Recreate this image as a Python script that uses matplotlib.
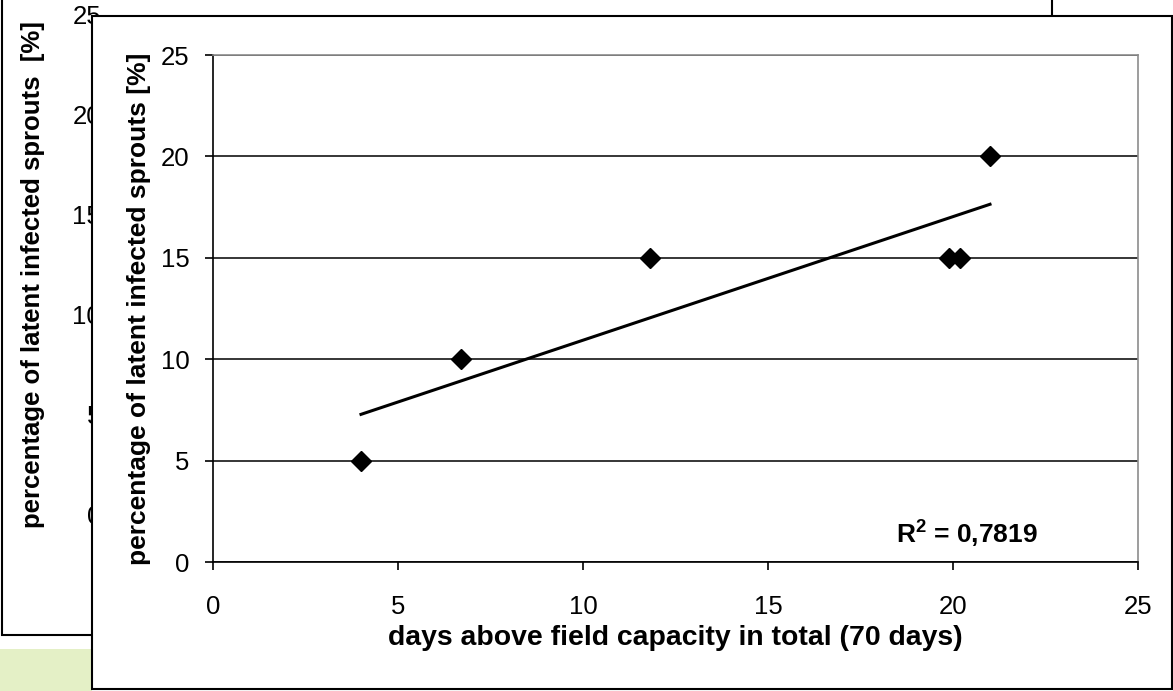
#------------------------------------------------------------------
# Import as ...
#
import matplotlib
matplotlib.use( 'Agg' )
from matplotlib import pyplot as plt
from matplotlib.patches import Rectangle
import numpy as np

#------------------------------------------------------------------
# Data.
#
days = [ 4.0, 6.7, 11.8, 19.9, 20.2, 21.0 ]
infected = [ 5, 10, 15, 15, 15, 20 ]
ticks = [ 0, 5, 10, 15, 20, 25 ]
r2_label = ' = 0,7819'
xlabel = 'days above field capacity in total (70 days)'
ylabel = 'percentage of latent infected sprouts [%]'
back_ylabel = 'percentage of latent infected sprouts  [%]'

#------------------------------------------------------------------
# Fonts.
#
plt.rcParams[ 'font.family' ] = [ 'Liberation Sans', 'DejaVu Sans' ]
plt.rcParams[ 'mathtext.fontset' ] = 'custom'
plt.rcParams[ 'mathtext.rm' ] = 'Liberation Sans'
plt.rcParams[ 'mathtext.bf' ] = 'Liberation Sans:bold'

W, H = 1173, 691
fig = plt.figure( figsize = ( W / 100, H / 100 ), dpi = 100 )

#------------------------------------------------------------------
# Background: the chart window lying behind (pixel coordinates).
#
bg = fig.add_axes( [ 0, 0, 1, 1 ] )
bg.set_xlim( 0, W )
bg.set_ylim( H, 0 )
bg.axis( 'off' )

bg.add_patch( Rectangle( ( 0, 649 ), 92, 42, facecolor = '#e4f0c6', edgecolor = 'none', zorder = 1 ) )
bg.add_patch( Rectangle( ( 1.5, -10 ), 1050, 645, facecolor = 'white', edgecolor = 'black', lw = 1.5, zorder = 1 ) )

# back tick labels, mostly hidden by the front window
for v in ticks:
    bg.text( 101, 517 - v * 20.0, str( v ), ha = 'right', va = 'center', fontsize = 18.5, zorder = 2 )
bg.text( 33, 275, back_ylabel, rotation = 90, ha = 'center', va = 'center',
         fontsize = 18.5, fontweight = 'bold', zorder = 2 )

# front window
bg.add_patch( Rectangle( ( 92, 15.7 ), 1080, 673.3, facecolor = 'white', edgecolor = 'black', lw = 1.5, zorder = 3 ) )

#------------------------------------------------------------------
# Front chart.
#
left, right, bottom, top = 213, 1138, 562, 55
ax = fig.add_axes( [ left / W, 1 - bottom / H, ( right - left ) / W, ( bottom - top ) / H ] )
ax.set_facecolor( 'white' )
ax.set_xlim( 0, 25 )
ax.set_ylim( 0, 25 )
ax.set_xticks( ticks )
ax.set_yticks( ticks )
ax.yaxis.grid( True, color = 'black', lw = 1.1 )
ax.set_axisbelow( True )

for s in [ 'left', 'bottom' ]:
    ax.spines[ s ].set_color( 'black' )
    ax.spines[ s ].set_linewidth( 1.2 )
for s in [ 'top', 'right' ]:
    ax.spines[ s ].set_color( '#8c8c8c' )
    ax.spines[ s ].set_linewidth( 1.2 )

ax.tick_params( axis = 'y', direction = 'out', length = 6, width = 1.2, pad = 11, labelsize = 18.5 )
ax.tick_params( axis = 'x', direction = 'out', length = 6, width = 1.2, pad = 18, labelsize = 18.5 )

# linear trend line
k, d = np.polyfit( days, infected, 1 )
xt = np.array( [ min( days ), max( days ) ] )
ax.plot( xt, k * xt + d, color = 'black', lw = 2.2, zorder = 3 )

ax.plot( days, infected, 'D', color = 'black', markersize = 10, zorder = 4, clip_on = False )

ax.set_xlabel( xlabel, fontsize = 20.4, fontweight = 'bold', labelpad = 4 )
ax.set_ylabel( ylabel, fontsize = 19, fontweight = 'bold', labelpad = 7 )

ax.text( 0.815, 0.055, r'$\mathbf{R^2}$' + r2_label, transform = ax.transAxes,
         ha = 'center', va = 'center', fontsize = 19, fontweight = 'bold' )

fig.savefig( 'out.png', dpi = 100 )
